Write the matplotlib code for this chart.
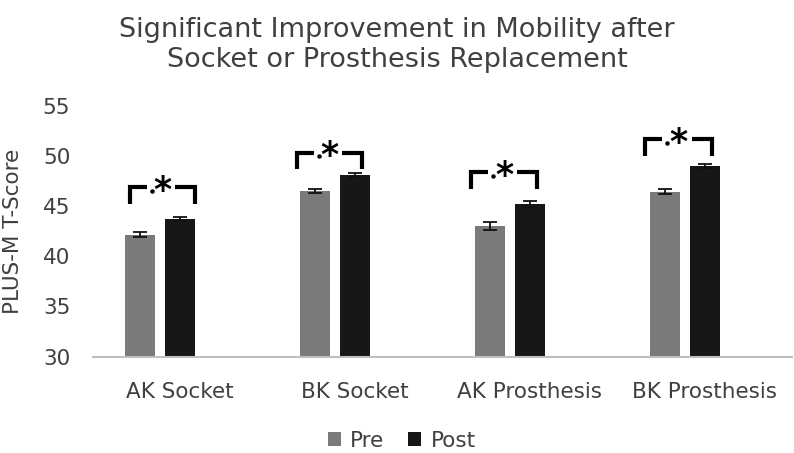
import numpy as np
import matplotlib.pyplot as plt

categories = ['AK Socket', 'BK Socket', 'AK Prosthesis', 'BK Prosthesis']
pre = [42.15, 46.5, 43.05, 46.45]
post = [43.7, 48.1, 45.2, 49.05]
pre_err = [0.25, 0.2, 0.4, 0.23]
post_err = [0.2, 0.2, 0.27, 0.2]
# significance brackets (top level of each bracket)
bracket_top = [46.9, 50.35, 48.4, 51.7]

plt.rcParams['font.family'] = ['DejaVu Sans']
txt = '#404040'

fig = plt.figure(figsize=(7.94, 4.53), dpi=100)
ax = fig.add_axes([0.1165, 0.213, 0.8815, 0.553])

px = 1 / 175.0  # one pixel in x data units
x = np.arange(len(categories))
w = 30 * px
ax.bar(x - 39.5 * px, pre, w, color='#7a7a7a', label='Pre',
       yerr=pre_err, capsize=5, error_kw=dict(ecolor='#111111', elinewidth=1.3, capthick=1.3))
ax.bar(x, post, w, color='#171717', label='Post',
       yerr=post_err, capsize=5, error_kw=dict(ecolor='#111111', elinewidth=1.3, capthick=1.3))

left_off = [-50, -58, -59, -60]
right_off = [15, 7, 7, 7]
for i in range(len(categories)):
    l = i + left_off[i] * px
    r = i + right_off[i] * px
    t = bracket_top[i]
    b = t - 1.65
    ax.plot([l, l, l + 17 * px], [b, t, t], color='black', lw=3, solid_capstyle='butt', solid_joinstyle='miter')
    ax.plot([r - 20 * px, r, r], [t, t, b], color='black', lw=3, solid_capstyle='butt', solid_joinstyle='miter')
    ax.plot([l + 22 * px], [t - 0.35], marker='o', ms=2.2, color='black')
    ax.text((l + r) / 2, t - 0.35, '*', ha='center', va='center', fontsize=25,
            fontweight='bold', color='black')

ax.set_xlim(-0.5, 3.5)
ax.set_ylim(30, 55)
ax.set_yticks([30, 35, 40, 45, 50, 55])
ax.set_xticks(x)
ax.set_xticklabels(categories)
ax.tick_params(axis='both', length=0, labelsize=15.5, colors=txt)
ax.tick_params(axis='x', pad=18)
ax.tick_params(axis='y', pad=16)
for s in ['top', 'right', 'left']:
    ax.spines[s].set_visible(False)
ax.spines['bottom'].set_color('#bfbfbf')
ax.spines['bottom'].set_linewidth(1.5)

ax.set_ylabel('PLUS-M T-Score', fontsize=15.5, color=txt)
ax.yaxis.set_label_coords(-0.1, 0.5)

fig.text(0.5, 0.9, 'Significant Improvement in Mobility after\nSocket or Prosthesis Replacement',
         ha='center', va='center', fontsize=19.5, color=txt, linespacing=1.2)

fig.legend(loc='center', bbox_to_anchor=(0.506, 0.027), ncol=2, frameon=False,
           fontsize=15.5, labelcolor=txt, handlelength=0.6, handleheight=0.6,
           handletextpad=0.45, columnspacing=1.1)

fig.savefig('out.png', dpi=100)
